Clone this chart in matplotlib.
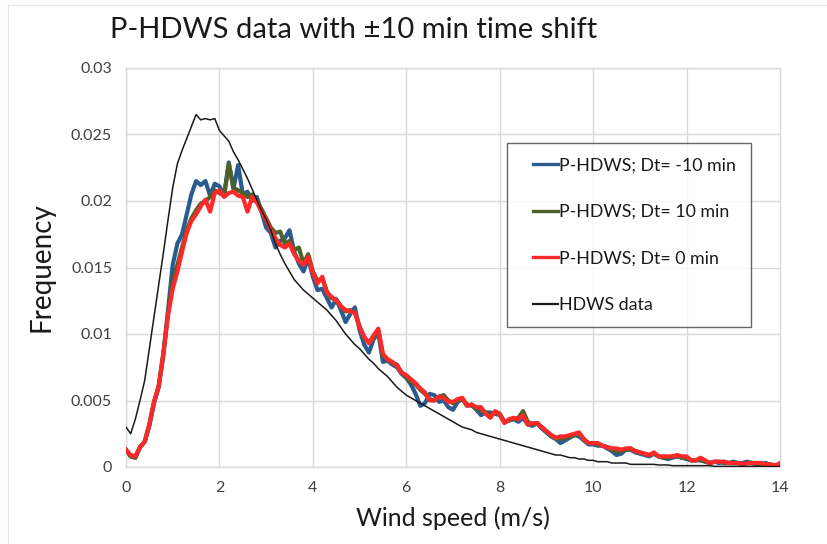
import numpy as np
import matplotlib
matplotlib.use("Agg")
import matplotlib.pyplot as plt
from matplotlib.lines import Line2D
from matplotlib.legend_handler import HandlerBase

plt.rcParams['font.family'] = ['Lato', 'DejaVu Sans']

title = "P-HDWS data with \u00b110 min time shift"
xlabel = "Wind speed (m/s)"
ylabel = "Frequency"
x_ticks = [0, 2, 4, 6, 8, 10, 12, 14]
y_ticks = [0, 0.005, 0.01, 0.015, 0.02, 0.025, 0.03]
y_ticklabels = ["0", "0.005", "0.01", "0.015", "0.02", "0.025", "0.03"]
series_names = ["P-HDWS; Dt= -10 min", "P-HDWS; Dt= 10 min", "P-HDWS; Dt= 0 min", "HDWS data"]

# wind speed bins (m/s), 0.1 spacing
wind = np.round(np.arange(0, 141) * 0.1, 1)

dt_minus10 = [
    0.0013, 0.0008, 0.0007, 0.0015, 0.0019, 0.0031, 0.0048, 0.0060, 0.0084, 0.0118,
    0.0152, 0.0168, 0.0175, 0.0190, 0.0205, 0.0215, 0.0212, 0.0215, 0.0204, 0.0213,
    0.0211, 0.0204, 0.0229, 0.0209, 0.0227, 0.0205, 0.0207, 0.0200, 0.0203, 0.0192,
    0.0180, 0.0176, 0.0165, 0.0170, 0.0172, 0.0178, 0.0162, 0.0153, 0.0147, 0.0157,
    0.0143, 0.0133, 0.0134, 0.0127, 0.0120, 0.0126, 0.0118, 0.0109, 0.0115, 0.0120,
    0.0103, 0.0092, 0.0086, 0.0096, 0.0101, 0.0079, 0.0080, 0.0077, 0.0075, 0.0070,
    0.0067, 0.0062, 0.0055, 0.0046, 0.0048, 0.0055, 0.0054, 0.0049, 0.0050, 0.0045,
    0.0043, 0.0049, 0.0051, 0.0046, 0.0047, 0.0043, 0.0039, 0.0041, 0.0041, 0.0040,
    0.0039, 0.0034, 0.0035, 0.0036, 0.0034, 0.0037, 0.0032, 0.0031, 0.0033, 0.0029,
    0.0026, 0.0023, 0.0021, 0.0018, 0.0020, 0.0022, 0.0024, 0.0023, 0.0020, 0.0017,
    0.0017, 0.0016, 0.0016, 0.0014, 0.0012, 0.0009, 0.0010, 0.0013, 0.0013, 0.0011,
    0.0010, 0.0009, 0.0008, 0.0010, 0.0008, 0.0007, 0.0006, 0.0007, 0.0008, 0.0007,
    0.0006, 0.0005, 0.0005, 0.0005, 0.0004, 0.0003, 0.0004, 0.0003, 0.0004, 0.0003,
    0.0004, 0.0003, 0.0003, 0.0004, 0.0003, 0.0002, 0.0002, 0.0003, 0.0001, 0.0001,
    0.0001,
]

dt_plus10 = [
    0.0013, 0.0008, 0.0007, 0.0015, 0.0019, 0.0032, 0.0049, 0.0061, 0.0086, 0.0116,
    0.0140, 0.0152, 0.0165, 0.0178, 0.0187, 0.0193, 0.0198, 0.0200, 0.0203, 0.0208,
    0.0206, 0.0204, 0.0228, 0.0210, 0.0208, 0.0206, 0.0203, 0.0205, 0.0200, 0.0194,
    0.0187, 0.0180, 0.0176, 0.0177, 0.0168, 0.0170, 0.0163, 0.0165, 0.0153, 0.0160,
    0.0147, 0.0140, 0.0142, 0.0132, 0.0127, 0.0126, 0.0121, 0.0117, 0.0118, 0.0116,
    0.0106, 0.0097, 0.0094, 0.0097, 0.0103, 0.0084, 0.0081, 0.0078, 0.0077, 0.0071,
    0.0068, 0.0064, 0.0062, 0.0058, 0.0055, 0.0051, 0.0050, 0.0053, 0.0054, 0.0050,
    0.0048, 0.0050, 0.0051, 0.0047, 0.0046, 0.0044, 0.0043, 0.0041, 0.0039, 0.0041,
    0.0040, 0.0034, 0.0035, 0.0036, 0.0037, 0.0042, 0.0034, 0.0032, 0.0033, 0.0030,
    0.0027, 0.0024, 0.0022, 0.0021, 0.0022, 0.0023, 0.0024, 0.0025, 0.0021, 0.0018,
    0.0018, 0.0017, 0.0016, 0.0015, 0.0013, 0.0012, 0.0012, 0.0013, 0.0014, 0.0012,
    0.0011, 0.0010, 0.0009, 0.0010, 0.0008, 0.0007, 0.0007, 0.0008, 0.0008, 0.0007,
    0.0007, 0.0005, 0.0005, 0.0006, 0.0004, 0.0003, 0.0004, 0.0004, 0.0003, 0.0003,
    0.0003, 0.0003, 0.0002, 0.0003, 0.0003, 0.0003, 0.0002, 0.0002, 0.0002, 0.0001,
    0.0002,
]

dt_zero = [
    0.0013, 0.0009, 0.0008, 0.0015, 0.0019, 0.0032, 0.0049, 0.0061, 0.0085, 0.0114,
    0.0134, 0.0147, 0.0162, 0.0176, 0.0185, 0.0190, 0.0196, 0.0201, 0.0192, 0.0206,
    0.0208, 0.0203, 0.0206, 0.0207, 0.0204, 0.0203, 0.0192, 0.0203, 0.0199, 0.0192,
    0.0186, 0.0178, 0.0172, 0.0167, 0.0165, 0.0168, 0.0160, 0.0155, 0.0152, 0.0158,
    0.0146, 0.0138, 0.0143, 0.0131, 0.0128, 0.0125, 0.0121, 0.0118, 0.0117, 0.0116,
    0.0105, 0.0098, 0.0093, 0.0099, 0.0104, 0.0085, 0.0081, 0.0079, 0.0076, 0.0071,
    0.0069, 0.0066, 0.0063, 0.0059, 0.0056, 0.0050, 0.0050, 0.0053, 0.0052, 0.0049,
    0.0049, 0.0051, 0.0052, 0.0046, 0.0047, 0.0045, 0.0045, 0.0040, 0.0037, 0.0042,
    0.0040, 0.0033, 0.0036, 0.0037, 0.0036, 0.0039, 0.0032, 0.0033, 0.0033, 0.0030,
    0.0027, 0.0024, 0.0022, 0.0023, 0.0023, 0.0024, 0.0025, 0.0026, 0.0021, 0.0018,
    0.0018, 0.0018, 0.0016, 0.0015, 0.0014, 0.0014, 0.0013, 0.0014, 0.0014, 0.0012,
    0.0011, 0.0010, 0.0009, 0.0011, 0.0008, 0.0008, 0.0008, 0.0008, 0.0009, 0.0008,
    0.0008, 0.0005, 0.0005, 0.0007, 0.0005, 0.0003, 0.0004, 0.0004, 0.0004, 0.0003,
    0.0003, 0.0003, 0.0002, 0.0003, 0.0003, 0.0003, 0.0003, 0.0002, 0.0002, 0.0001,
    0.0003,
]

hdws = [
    0.0030, 0.0025, 0.0036, 0.0050, 0.0065, 0.0089, 0.0113, 0.0137, 0.0161, 0.0186,
    0.0210, 0.0228, 0.0238, 0.0247, 0.0256, 0.0265, 0.0261, 0.0262, 0.0261, 0.0262,
    0.0253, 0.0249, 0.0245, 0.0237, 0.0231, 0.0224, 0.0217, 0.0209, 0.0201, 0.0193,
    0.0186, 0.0178, 0.0168, 0.0160, 0.0153, 0.0147, 0.0141, 0.0137, 0.0133, 0.0130,
    0.0127, 0.0124, 0.0121, 0.0118, 0.0114, 0.0110, 0.0105, 0.0100, 0.0096, 0.0092,
    0.0089, 0.0085, 0.0081, 0.0078, 0.0074, 0.0071, 0.0068, 0.0064, 0.0060, 0.0057,
    0.0054, 0.0052, 0.0050, 0.0048, 0.0046, 0.0044, 0.0042, 0.0040, 0.0038, 0.0036,
    0.0034, 0.0032, 0.0030, 0.0029, 0.0028, 0.0026, 0.0025, 0.0024, 0.0023, 0.0022,
    0.0021, 0.0020, 0.0019, 0.0018, 0.0017, 0.0016, 0.0015, 0.0014, 0.0013, 0.0012,
    0.0011, 0.0010, 0.0009, 0.0009, 0.0008, 0.0007, 0.0007, 0.0006, 0.0006, 0.0005,
    0.0005, 0.0004, 0.0004, 0.0004, 0.0003, 0.0003, 0.0003, 0.0003, 0.0002, 0.0002,
    0.0002, 0.0002, 0.0002, 0.0002, 0.00015, 0.00015, 0.00015, 0.0001, 0.0001, 0.0001,
    0.0001, 0.0001, 0.0001, 0.0001, 0.0001, 0.0001, 0.00005, 0.00005, 0.00005, 0.00005,
    0.00005, 0.00005, 0.00005, 0.00005, 0.00005, 0.00005, 0.00003, 0.00003, 0.00003, 0.00003,
    0.00003,
]

colors = ["#2A5B8F", "#4F6128", "#FF2828", "#1A1A1A"]
widths = [3.0, 3.0, 3.0, 1.1]


class IndentedLineHandler(HandlerBase):
    """Legend line drawn only in the right part of the handle box."""
    def create_artists(self, legend, orig_handle, xdescent, ydescent,
                       width, height, fontsize, trans):
        y = height / 2.0 - ydescent
        x0 = -xdescent + 0.32 * width
        x1 = -xdescent + width
        line = Line2D([x0, x1], [y, y], color=orig_handle.get_color(),
                      lw=orig_handle.get_linewidth(), transform=trans)
        return [line]


fig = plt.figure(figsize=(8.28, 5.44), dpi=100)
ax = fig.add_axes([126 / 828, 1 - 467 / 544, 654 / 828, 399 / 544])

ax.plot(wind, dt_minus10, color=colors[0], lw=widths[0], solid_joinstyle='round', zorder=3)
ax.plot(wind, dt_plus10, color=colors[1], lw=widths[1], solid_joinstyle='round', zorder=4)
ax.plot(wind, dt_zero, color=colors[2], lw=widths[2], solid_joinstyle='round', zorder=5)
ax.plot(wind, hdws, color=colors[3], lw=widths[3], zorder=6)

ax.set_xlim(0, 14)
ax.set_ylim(0, 0.03)
ax.set_xticks(x_ticks)
ax.set_xticklabels([str(t) for t in x_ticks])
ax.set_yticks(y_ticks)
ax.set_yticklabels(y_ticklabels)
ax.tick_params(length=0, labelsize=11.5, colors="#404040", pad=10)
ax.grid(True, color="#D9D9D9", lw=1.0)
ax.set_axisbelow(True)
for s in ax.spines.values():
    s.set_color("#D9D9D9")
    s.set_linewidth(1.0)

ax.set_xlabel(xlabel, fontsize=18, color="#1a1a1a", labelpad=8)
ax.set_ylabel(ylabel, fontsize=20, color="#1a1a1a", labelpad=12)
fig.text(110 / 828, 1 - 30 / 544, title, fontsize=21, color="#1a1a1a",
         ha='left', va='center')

handles = [Line2D([0], [0], color=c, lw=2.4 if i < 3 else 1.6) for i, c in enumerate(colors)]
leg = ax.legend(handles, series_names, loc='upper left',
                bbox_to_anchor=((507 - 126) / 654, (467 - 143) / 399),
                fontsize=12.8, frameon=True, fancybox=False, edgecolor="#404040",
                handlelength=2.05, handletextpad=0.1, labelspacing=1.72,
                borderpad=0.8, borderaxespad=0,
                handler_map={Line2D: IndentedLineHandler()})
leg.get_frame().set_linewidth(1.0)
for t in leg.get_texts():
    t.set_color("#1a1a1a")

# faint chart border (top and left)
fig.add_artist(Line2D([8 / 828, 1], [1 - 5 / 544, 1 - 5 / 544], color="#E6E6E6", lw=0.8))
fig.add_artist(Line2D([8 / 828, 8 / 828], [0, 1 - 5 / 544], color="#E6E6E6", lw=0.8))

fig.savefig("out.png", dpi=100)
